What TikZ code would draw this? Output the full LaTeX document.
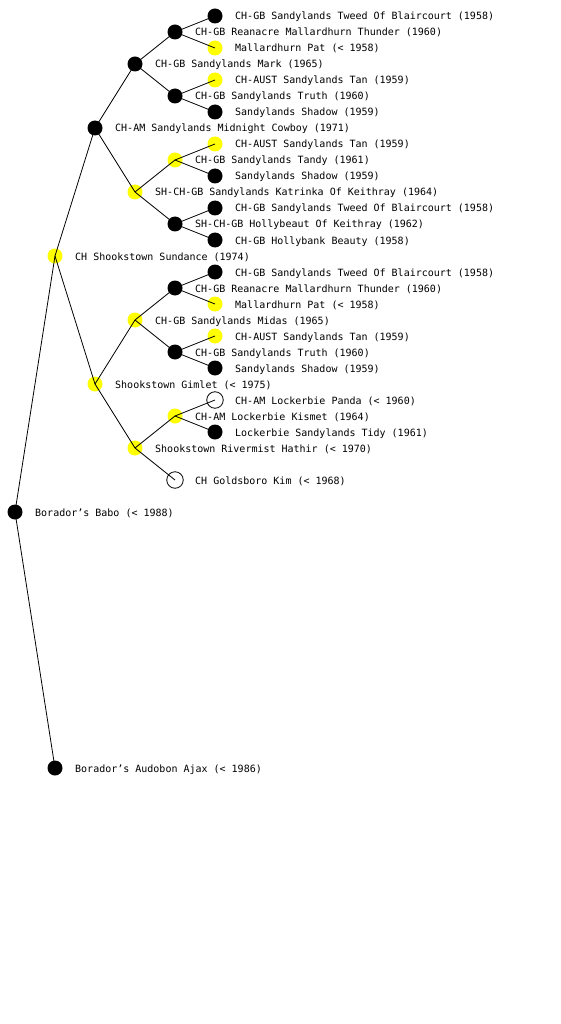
\documentclass[tikz,border=0pt]{standalone}
\usepackage{fontspec}
\newfontfamily\lblfont{DejaVu Sans Mono}
\definecolor{gold}{RGB}{255,255,0}
\tikzset{
  person/.style={circle,inner sep=0pt,outer sep=0pt,minimum size=15pt},
  blk/.style={person,fill=black},
  yel/.style={person,fill=gold},
  opn/.style={person,minimum size=16.5pt,draw=black,fill=white,line width=0.8pt},
  lbl/.style={anchor=base west,inner sep=0pt,font=\lblfont\fontsize{10}{10}\selectfont},
  link/.style={line width=0.8pt,black}
}
\newcommand\pnode[5]{%
  \node[#4] (#1) at (#2,#3) {};
  \node[lbl] (#1t) at ([xshift=20pt,yshift=-4pt]#1.center) {#5};}
\begin{document}
\begin{tikzpicture}[x=1pt,y=-1pt]
\useasboundingbox (0,0) rectangle (560,1024);
\pnode{r}{15}{512}{blk}{Borador’s Babo (< 1988)}
\pnode{s}{55}{256}{yel}{CH Shookstown Sundance (1974)}
\pnode{d}{55}{768}{blk}{Borador’s Audobon Ajax (< 1986)}
\pnode{ss}{95}{128}{blk}{CH-AM Sandylands Midnight Cowboy (1971)}
\pnode{sd}{95}{384}{yel}{Shookstown Gimlet (< 1975)}
\pnode{sss}{135}{64}{blk}{CH-GB Sandylands Mark (1965)}
\pnode{ssd}{135}{192}{yel}{SH-CH-GB Sandylands Katrinka Of Keithray (1964)}
\pnode{sds}{135}{320}{yel}{CH-GB Sandylands Midas (1965)}
\pnode{sdd}{135}{448}{yel}{Shookstown Rivermist Hathir (< 1970)}
\pnode{ssss}{175}{32}{blk}{CH-GB Reanacre Mallardhurn Thunder (1960)}
\pnode{sssd}{175}{96}{blk}{CH-GB Sandylands Truth (1960)}
\pnode{ssds}{175}{160}{yel}{CH-GB Sandylands Tandy (1961)}
\pnode{ssdd}{175}{224}{blk}{SH-CH-GB Hollybeaut Of Keithray (1962)}
\pnode{sdss}{175}{288}{blk}{CH-GB Reanacre Mallardhurn Thunder (1960)}
\pnode{sdsd}{175}{352}{blk}{CH-GB Sandylands Truth (1960)}
\pnode{sdds}{175}{416}{yel}{CH-AM Lockerbie Kismet (1964)}
\pnode{sddd}{175}{480}{opn}{CH Goldsboro Kim (< 1968)}
\pnode{a}{215}{16}{blk}{CH-GB Sandylands Tweed Of Blaircourt (1958)}
\pnode{b}{215}{48}{yel}{Mallardhurn Pat (< 1958)}
\pnode{c}{215}{80}{yel}{CH-AUST Sandylands Tan (1959)}
\pnode{e}{215}{112}{blk}{Sandylands Shadow (1959)}
\pnode{f}{215}{144}{yel}{CH-AUST Sandylands Tan (1959)}
\pnode{g}{215}{176}{blk}{Sandylands Shadow (1959)}
\pnode{h}{215}{208}{blk}{CH-GB Sandylands Tweed Of Blaircourt (1958)}
\pnode{i}{215}{240}{blk}{CH-GB Hollybank Beauty (1958)}
\pnode{j}{215}{272}{blk}{CH-GB Sandylands Tweed Of Blaircourt (1958)}
\pnode{k}{215}{304}{yel}{Mallardhurn Pat (< 1958)}
\pnode{l}{215}{336}{yel}{CH-AUST Sandylands Tan (1959)}
\pnode{m}{215}{368}{blk}{Sandylands Shadow (1959)}
\pnode{n}{215}{400}{opn}{CH-AM Lockerbie Panda (< 1960)}
\pnode{o}{215}{432}{blk}{Lockerbie Sandylands Tidy (1961)}
\foreach \p/\c in {r/s,r/d,s/ss,s/sd,ss/sss,ss/ssd,sd/sds,sd/sdd,
  sss/ssss,sss/sssd,ssd/ssds,ssd/ssdd,sds/sdss,sds/sdsd,sdd/sdds,sdd/sddd,
  ssss/a,ssss/b,sssd/c,sssd/e,ssds/f,ssds/g,ssdd/h,ssdd/i,
  sdss/j,sdss/k,sdsd/l,sdsd/m,sdds/n,sdds/o}
  \draw[link] (\p.center) -- (\c.center);
\end{tikzpicture}
\end{document}
